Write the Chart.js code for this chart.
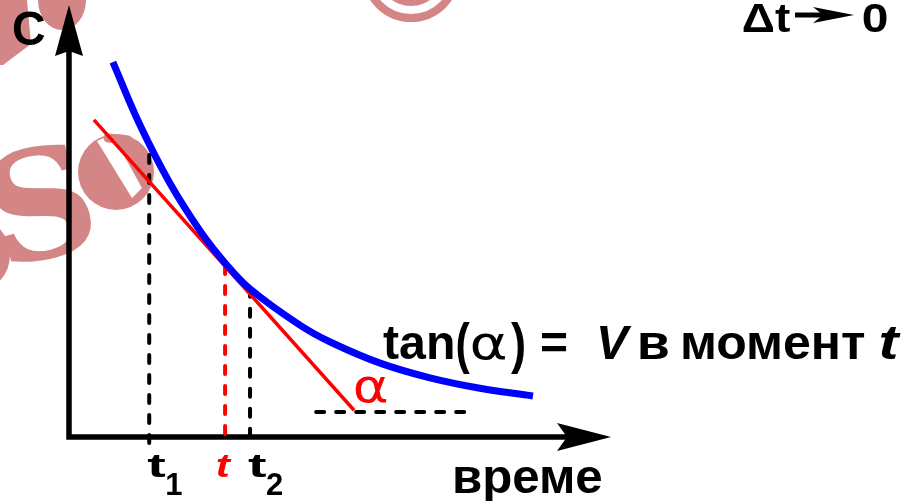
<!DOCTYPE HTML>
<html>
<head>
    <title>Скорост на реакцията</title>
    <meta http-equiv="Content-Type" content="text/html; charset=UTF-8" />
    <script src="https://cdn.jsdelivr.net/npm/chart.js@4"></script>
    <style type="text/css">
        html, body {
            margin: 0;
            padding: 0;
            background: #fff;
        }

        #myChart {
            display: block;
        }
    </style>
</head>

<body>
    <canvas id="myChart" width="907" height="501"></canvas>
</body>
<script type="text/javascript">
    // concentration curve (time, c)
    let curveT = [0.81, 1.31, 1.86, 2.42, 2.88, 3.34, 4.26, 4.82, 5.74, 6.66, 7.58, 8.56];
    let curveC = [8.68, 7.22, 5.88, 4.77, 4.03, 3.43, 2.59, 2.20, 1.71, 1.37, 1.13, 0.95];

    // tangent at moment t
    let tangentT = [0.46, 5.26];
    let tangentC = [7.34, 0.62];

    // marked moments: t1, t, t2 (c where the dashed line starts, c where it stops)
    let markT = [1.48, 2.88, 3.34];
    let markTop = [6.53, 3.96, 3.43];
    let markBottom = [-0.23, 0, -0.12];

    // dashed base line of the angle alpha
    let baseT = [4.56, 7.40];
    let baseC = [0.58, 0.58];

    // axes end at 10 units
    let axisEnd = 10;
    // visible window (origin of the axes at 69px / 437px)
    let xMin = -1.273, xMax = 15.461;
    let yMin = -1.481, yMax = 10.116;

    let pts = (xs, ys) => xs.map((x, i) => ({ x: x, y: ys[i] }));

    let datasets = [{
        data: pts(curveT, curveC),
        borderColor: '#0000ff',
        borderWidth: 7,
        tension: 0.4,
        pointRadius: 0
    }, {
        data: pts(tangentT, tangentC),
        borderColor: '#ff0000',
        borderWidth: 3.5,
        pointRadius: 0
    }, {
        data: pts(baseT, baseC),
        borderColor: '#000',
        borderWidth: 4,
        borderDash: [8, 12],
        borderCapStyle: 'round',
        pointRadius: 0
    }];

    let markColors = ['#000', '#ff0000', '#000'];
    markT.forEach(function (t, i) {
        datasets.push({
            data: [{ x: t, y: markTop[i] }, { x: t, y: markBottom[i] }],
            borderColor: markColors[i],
            borderWidth: 4,
            borderDash: [8, 12],
            borderCapStyle: 'round',
            pointRadius: 0
        });
    });

    // draws text so that its ink starts at x and is w pixels wide
    function fitText(ctx, text, x, y, w) {
        let m = ctx.measureText(text);
        let ink = m.actualBoundingBoxLeft + m.actualBoundingBoxRight;
        let s = w / ink;
        ctx.save();
        ctx.translate(x + m.actualBoundingBoxLeft * s, y);
        ctx.scale(s, 1);
        ctx.fillText(text, 0, 0);
        ctx.restore();
    }

    let pink = '#d48686';

    let watermark = {
        id: 'watermark',
        beforeDatasetsDraw: function (chart) {
            let ctx = chart.ctx;
            ctx.save();
            ctx.fillStyle = pink;
            ctx.strokeStyle = pink;

            // top centre ring
            ctx.lineWidth = 8;
            ctx.beginPath();
            ctx.arc(411, -27, 45, 0, Math.PI * 2);
            ctx.stroke();
            ctx.beginPath();
            ctx.arc(411, -27, 33, 0, Math.PI * 2);
            ctx.fill();

            // left ring
            ctx.lineWidth = 10;
            ctx.beginPath();
            ctx.arc(-28, 255, 33, 0, Math.PI * 2);
            ctx.stroke();

            // top left pieces
            ctx.beginPath();
            ctx.moveTo(0, 0);
            ctx.lineTo(27, 0);
            ctx.lineTo(31, 44);
            ctx.lineTo(3, 65);
            ctx.lineTo(0, 65);
            ctx.closePath();
            ctx.fill();
            ctx.beginPath();
            ctx.ellipse(62, 0, 24, 30, 0, 0, Math.PI);
            ctx.fill();

            // the S
            ctx.textAlign = 'center';
            ctx.textBaseline = 'middle';
            ctx.save();
            ctx.translate(44, 218);
            ctx.rotate(-0.25);
            ctx.font = 'bold 150px "DejaVu Serif"';
            ctx.fillText('S', 0, 0);
            ctx.restore();

            // the round c with its slot
            ctx.beginPath();
            ctx.arc(116, 172, 38, 0, Math.PI * 2);
            ctx.fill();
            ctx.fillStyle = '#fff';
            ctx.beginPath();
            ctx.moveTo(97, 141);
            ctx.lineTo(112, 134);
            ctx.lineTo(142, 188);
            ctx.lineTo(132, 198);
            ctx.closePath();
            ctx.fill();
            ctx.strokeStyle = pink;
            ctx.lineWidth = 9;
            ctx.lineCap = 'round';
            ctx.beginPath();
            ctx.moveTo(108, 138);
            ctx.lineTo(128, 140);
            ctx.stroke();
            ctx.restore();

            // axes with arrows
            let xs = chart.scales.x, ys = chart.scales.y;
            let ox = xs.getPixelForValue(0), oy = ys.getPixelForValue(0);
            let xe = xs.getPixelForValue(axisEnd), ye = ys.getPixelForValue(axisEnd);
            ctx.save();
            ctx.fillStyle = '#000';
            ctx.strokeStyle = '#000';
            ctx.lineWidth = 5.5;
            ctx.beginPath();
            ctx.moveTo(ox, oy + 2.5);
            ctx.lineTo(ox, ye + 40);
            ctx.moveTo(ox - 2.5, oy);
            ctx.lineTo(xe - 40, oy);
            ctx.stroke();
            ctx.beginPath();
            ctx.moveTo(ox, ye);
            ctx.lineTo(ox + 14, ye + 51);
            ctx.lineTo(ox, ye + 46);
            ctx.lineTo(ox - 14, ye + 51);
            ctx.closePath();
            ctx.fill();
            ctx.beginPath();
            ctx.moveTo(xe, oy);
            ctx.lineTo(xe - 54, oy - 14);
            ctx.lineTo(xe - 44, oy);
            ctx.lineTo(xe - 54, oy + 14);
            ctx.closePath();
            ctx.fill();
            ctx.restore();
        }
    };

    let labels = {
        id: 'labels',
        afterDatasetsDraw: function (chart) {
            let ctx = chart.ctx;
            let xs = chart.scales.x;
            ctx.save();
            ctx.textAlign = 'left';
            ctx.textBaseline = 'alphabetic';
            ctx.fillStyle = '#000';

            ctx.font = 'bold 48px "Liberation Sans"';
            fitText(ctx, 'C', 13, 45, 32);

            // delta t -> 0
            ctx.font = 'bold 40px "Liberation Sans"';
            fitText(ctx, 'Δt', 743, 32, 47);
            fitText(ctx, '0', 863, 32, 24);
            ctx.lineWidth = 5;
            ctx.beginPath();
            ctx.moveTo(795, 15);
            ctx.lineTo(826, 15);
            ctx.stroke();
            ctx.beginPath();
            ctx.moveTo(854, 15);
            ctx.lineTo(813, 7);
            ctx.lineTo(823, 15);
            ctx.lineTo(813, 23);
            ctx.closePath();
            ctx.fill();

            // tan(alpha) = V в момент t
            ctx.font = 'bold 48px "Liberation Sans"';
            fitText(ctx, 'tan', 383, 359, 70);
            fitText(ctx, '=', 542, 359, 25);
            fitText(ctx, 'в', 640, 359, 28);
            fitText(ctx, 'момент', 683, 359, 182);
            ctx.font = 'bold 56px "Liberation Sans"';
            fitText(ctx, '(', 457, 362, 13);
            fitText(ctx, ')', 511, 362, 13);
            ctx.font = '46px "DejaVu Sans"';
            fitText(ctx, 'α', 472, 359, 34);
            ctx.font = 'italic bold 48px "Liberation Sans"';
            fitText(ctx, 'V', 600, 359, 32);
            fitText(ctx, 't', 881, 359, 20);

            ctx.fillStyle = '#ff0000';
            ctx.font = '46px "DejaVu Sans"';
            fitText(ctx, 'α', 355, 402, 32);

            // moments under the time axis
            let subs = ['1', '', '2'];
            markT.forEach(function (t, i) {
                let px = xs.getPixelForValue(t);
                ctx.fillStyle = markColors[i];
                if (i == 1) {
                    ctx.font = 'italic bold 34px "Liberation Sans"';
                    fitText(ctx, 't', px - 8, 477, 15);
                } else {
                    ctx.font = 'bold 34px "Liberation Sans"';
                    fitText(ctx, 't', px - 2, 477, 18);
                    ctx.font = 'bold 31px "Liberation Sans"';
                    ctx.fillText(subs[i], px + 16, 495);
                }
            });

            ctx.fillStyle = '#000';
            ctx.font = 'bold 48px "Liberation Sans"';
            fitText(ctx, 'време', 455, 493, 147);
            ctx.restore();
        }
    };

    let ctx = document.getElementById('myChart').getContext('2d');
    let myChart = new Chart(ctx, {
        type: 'line',
        data: { datasets: datasets },
        options: {
            responsive: false,
            animation: false,
            layout: { padding: 0 },
            scales: {
                x: { type: 'linear', min: xMin, max: xMax, display: false },
                y: { type: 'linear', min: yMin, max: yMax, display: false }
            },
            plugins: {
                legend: { display: false },
                tooltip: { enabled: false }
            }
        },
        plugins: [watermark, labels]
    });
</script>

</html>
